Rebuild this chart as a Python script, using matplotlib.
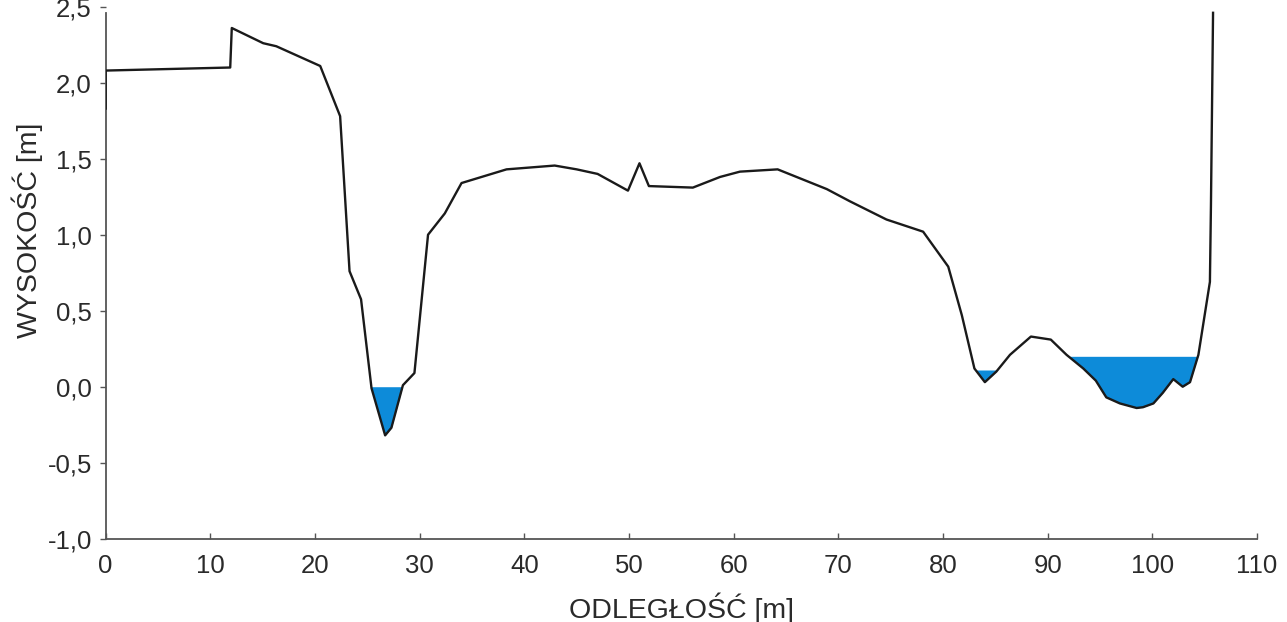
# cross-section profile with water levels
import numpy as np
import matplotlib.pyplot as plt
from matplotlib.ticker import FuncFormatter

# profile data
odleglosc = [0, 0, 11.9, 12.05, 15.05, 16.3, 20.5, 22.4, 23.3, 24.4, 25.4, 26.7, 27.3, 28.4,
	29.5, 30.8, 32.4, 34.0, 38.3, 42.9, 45.0, 47.0, 49.9, 51.0, 51.9, 56.1, 58.7, 60.6,
	64.2, 68.9, 71.1, 74.6, 78.1, 80.5, 81.8, 83.0, 84.0, 85.1, 86.4, 88.4, 90.3, 91.8,
	93.4, 94.6, 95.6, 96.9, 98.5, 99.1, 100.1, 101.0, 102.0, 102.9, 103.6, 104.4, 105.5,
	105.6, 105.8]
wysokosc = [1.83, 2.08, 2.10, 2.36, 2.26, 2.24, 2.11, 1.78, 0.76, 0.575, -0.01, -0.32, -0.27, 0.01,
	0.09, 1.0, 1.14, 1.34, 1.43, 1.455, 1.43, 1.40, 1.29, 1.47, 1.32, 1.31, 1.38, 1.415,
	1.43, 1.30, 1.22, 1.10, 1.02, 0.79, 0.47, 0.12, 0.03, 0.10, 0.21, 0.33, 0.31, 0.21,
	0.12, 0.04, -0.07, -0.11, -0.14, -0.135, -0.11, -0.04, 0.05, 0.0, 0.03, 0.21, 0.69,
	1.2, 2.46]

# water bodies: [start, end, level]
woda_od = [25.0, 82.8, 91.5]
woda_do = [29.0, 85.5, 104.6]
woda_poziom = [0.0, 0.11, 0.20]

xticks = [0, 10, 20, 30, 40, 50, 60, 70, 80, 90, 100, 110]
yticks = [-1.0, -0.5, 0.0, 0.5, 1.0, 1.5, 2.0, 2.5]

# figure
plt.rcParams['font.family'] = ['Liberation Sans', 'DejaVu Sans']
fig = plt.figure(figsize=(12.87, 6.22), dpi=100)
ax = fig.add_axes([0.0821, 0.1339, 0.8946, 0.8553])

x = np.array(odleglosc)
y = np.array(wysokosc)

# water fill
for i1 in range(len(woda_od)):
	m = (x >= woda_od[i1]) & (x <= woda_do[i1])
	ax.fill_between(x[m], y[m], woda_poziom[i1], where=y[m] <= woda_poziom[i1],
		interpolate=True, color='#0d8bd9', linewidth=0, zorder=2)

# profile line
ax.plot(x, y, color='#1a1a1a', linewidth=1.7, zorder=3)

ax.set_xlim(0, 110)
ax.set_ylim(-1.0, 2.5)
ax.set_xticks(xticks)
ax.set_yticks(yticks)
ax.yaxis.set_major_formatter(FuncFormatter(lambda v, p: "{0:.1f}".format(v).replace('.', ',')))

# axes look
for s in ['top', 'right']:
	ax.spines[s].set_visible(False)
for s in ['left', 'bottom']:
	ax.spines[s].set_color('#555555')
	ax.spines[s].set_linewidth(1.3)
ax.spines['left'].set_bounds(-1.0, 2.46)
ax.tick_params(axis='y', direction='out', length=4, width=1, color='#555555', pad=6,
	labelsize=18.5, labelcolor='#2a2a2a')
ax.tick_params(axis='x', direction='in', length=4, width=1, color='#555555', pad=11,
	labelsize=18.5, labelcolor='#2a2a2a')

ax.set_xlabel('ODLEGŁOŚĆ [m]', fontsize=20.5, color='#2a2a2a')
ax.set_ylabel('WYSOKOŚĆ [m]', fontsize=20.5, color='#2a2a2a')
ax.xaxis.set_label_coords(0.5, -0.102)
ax.yaxis.set_label_coords(-0.0545, 0.58)

fig.savefig('out.png', dpi=100)
